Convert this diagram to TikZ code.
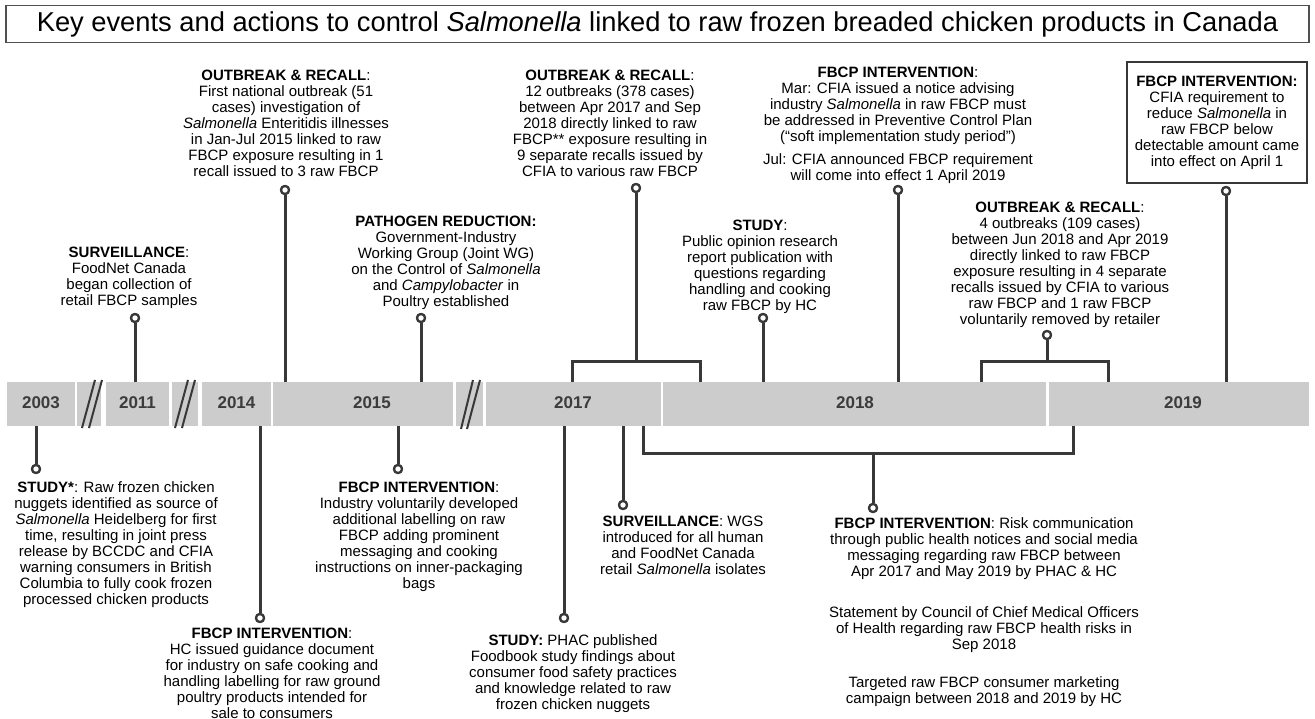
\documentclass[tikz,border=0pt]{standalone}
\usepackage{fontspec}
\setmainfont{Liberation Sans}
\definecolor{lnc}{HTML}{383838}
\definecolor{barc}{HTML}{CCCCCC}
\definecolor{yrc}{HTML}{3C3C3C}
\definecolor{ttl}{HTML}{505050}
\begin{document}
\begin{tikzpicture}[x=1pt,y=-1pt,
  txt/.style={font=\fontsize{15}{16}\selectfont, align=center, inner sep=0pt, anchor=north},
  stem/.style={draw=lnc, line width=3pt},
  dot/.style={circle, draw=lnc, fill=white, line width=2.2pt, minimum size=8pt, inner sep=0pt},
  yr/.style={font=\fontsize{17}{17}\selectfont\bfseries, text=yrc, inner sep=0pt},
  seg/.style={fill=barc},
  slash/.style={draw=lnc, line width=2pt}]
\useasboundingbox (0,0) rectangle (1315,719);

% title
\node[draw=ttl, line width=1.5pt, minimum width=1303pt, minimum height=37pt, inner sep=0pt,
  font=\fontsize{27.3}{27.3}\selectfont] (title) at (657.5,24)
  {Key events and actions to control \textit{Salmonella} linked to raw frozen breaded chicken products in Canada};

% timeline bar
\fill[seg] (7,382) rectangle (75,426);
\fill[seg] (77,382) rectangle (101,426);
\fill[seg] (106,382) rectangle (169,426);
\fill[seg] (172,382) rectangle (198,426);
\fill[seg] (202,382) rectangle (271,426);
\fill[seg] (273,382) rectangle (453,426);
\fill[seg] (456,382) rectangle (483,426);
\fill[seg] (486,382) rectangle (661,426);
\fill[seg] (663,382) rectangle (1046,426);
\fill[seg] (1049,382) rectangle (1309,426);

% break marks
\draw[slash] (82,428) -- (95,380);
\draw[slash] (89,428) -- (102,380);
\draw[slash] (175,428) -- (188,380);
\draw[slash] (182,428) -- (195,380);
\draw[slash] (461,429) -- (473,380);
\draw[slash] (467,429) -- (480,380);

% year labels
\node[yr] (y03) at (41,403) {2003};
\node[yr] (y11) at (137.5,403) {2011};
\node[yr] (y14) at (236.5,403) {2014};
\node[yr] (y15) at (372,403) {2015};
\node[yr] (y17) at (573,403) {2017};
\node[yr] (y18) at (855,403) {2018};
\node[yr] (y19) at (1183,403) {2019};

% dots
\node[dot] (dS11) at (135,318) {};
\node[dot] (dO15) at (285,190) {};
\node[dot] (dP15) at (421,318) {};
\node[dot] (dO17) at (636,188) {};
\node[dot] (dS18) at (763,318) {};
\node[dot] (dF18) at (898,190) {};
\node[dot] (dF19) at (1226,191) {};
\node[dot] (dO18) at (1047,335) {};
\node[dot] (dS03) at (36,469) {};
\node[dot] (dF14) at (260,618) {};
\node[dot] (dF15) at (398,469) {};
\node[dot] (dS17) at (564,618) {};
\node[dot] (dW17) at (623,505) {};
\node[dot] (dR17) at (873,508) {};

% bar anchor coordinates
\coordinate (bS11) at (135,382);
\coordinate (bO15) at (285,382);
\coordinate (bP15) at (421,382);
\coordinate (jO17) at (636,362);
\coordinate (bO17L) at (572,382);
\coordinate (bO17R) at (700,382);
\coordinate (bS18) at (763,382);
\coordinate (bF18) at (898,382);
\coordinate (bF19) at (1226,382);
\coordinate (jO18) at (1047,362);
\coordinate (bO18L) at (981,382);
\coordinate (bO18R) at (1108,382);
\coordinate (uS03) at (36,426);
\coordinate (uF14) at (260,426);
\coordinate (uF15) at (398,426);
\coordinate (uS17) at (564,426);
\coordinate (uW17) at (623,426);
\coordinate (uR17L) at (643,426);
\coordinate (uR19R) at (1073,426);
\coordinate (jR17) at (873,453);

% connectors
\draw[stem] (dS11) -- (bS11);
\draw[stem] (dO15) -- (bO15);
\draw[stem] (dP15) -- (bP15);
\draw[stem] (dO17) -- (jO17);
\draw[stem] (bO17L) |- (jO17) -| (bO17R);
\draw[stem] (dS18) -- (bS18);
\draw[stem] (dF18) -- (bF18);
\draw[stem] (dF19) -- (bF19);
\draw[stem] (dO18) -- (jO18);
\draw[stem] (bO18L) |- (jO18) -| (bO18R);
\draw[stem] (uS03) -- (dS03);
\draw[stem] (uF14) -- (dF14);
\draw[stem] (uF15) -- (dF15);
\draw[stem] (uS17) -- (dS17);
\draw[stem] (uW17) -- (dW17);
\draw[stem] (uR17L) |- (jR17) -| (uR19R);
\draw[stem] (jR17) -- (dR17);

% redraw dots on top
\foreach \d in {dS11,dO15,dP15,dO17,dS18,dF18,dF19,dO18,dS03,dF14,dF15,dS17,dW17,dR17}
  \node[dot] at (\d) {};

% texts above
\node[txt] (tS11) at (129,246.5) {\textbf{SURVEILLANCE}:\\FoodNet Canada\\began collection of\\retail FBCP samples};
\node[txt] (tO15) at (286,69.5) {\textbf{OUTBREAK \& RECALL}:\\First national outbreak (51\\cases) investigation of\\\textit{Salmonella} Enteritidis illnesses\\in Jan-Jul 2015 linked to raw\\FBCP exposure resulting in 1\\recall issued to 3 raw FBCP};
\node[txt] (tP15) at (446,215.5) {\textbf{PATHOGEN REDUCTION:}\\Government-Industry\\Working Group (Joint WG)\\on the Control of \textit{Salmonella}\\and \textit{Campylobacter} in\\Poultry established};
\node[txt] (tO17) at (610,69.5) {\textbf{OUTBREAK \& RECALL}:\\12 outbreaks (378 cases)\\between Apr 2017 and Sep\\2018 directly linked to raw\\FBCP** exposure resulting in\\9 separate recalls issued by\\CFIA to various raw FBCP};
\node[txt] (tS18) at (760,219.5) {\textbf{STUDY}:\\Public opinion research\\report publication with\\questions regarding\\handling and cooking\\raw FBCP by HC};
\node[txt] (tF18) at (898,66.5) {\textbf{FBCP INTERVENTION}:\\Mar: CFIA issued a notice advising\\industry \textit{Salmonella} in raw FBCP must\\be addressed in Preventive Control Plan\\(``soft implementation study period'')\\[7pt]Jul: CFIA announced FBCP requirement\\will come into effect 1 April 2019};
\node[draw=lnc, line width=1.5pt, minimum width=180pt, minimum height=121pt, inner sep=0pt,
  font=\fontsize{15}{16}\selectfont, align=center] (tF19) at (1217,122.5)
  {\textbf{FBCP INTERVENTION:}\\CFIA requirement to\\reduce \textit{Salmonella} in\\raw FBCP below\\detectable amount came\\into effect on April 1};
\node[txt] (tO18) at (1060,201.5) {\textbf{OUTBREAK \& RECALL}:\\4 outbreaks (109 cases)\\between Jun 2018 and Apr 2019\\directly linked to raw FBCP\\exposure resulting in 4 separate\\recalls issued by CFIA to various\\raw FBCP and 1 raw FBCP\\voluntarily removed by retailer};

% texts below
\node[txt] (tS03) at (116,481.5) {\textbf{STUDY*}: Raw frozen chicken\\nuggets identified as source of\\\textit{Salmonella} Heidelberg for first\\time, resulting in joint press\\release by BCCDC and CFIA\\warning consumers in British\\Columbia to fully cook frozen\\processed chicken products};
\node[txt] (tF14) at (272,627.5) {\textbf{FBCP INTERVENTION}:\\HC issued guidance document\\for industry on safe cooking and\\handling labelling for raw ground\\poultry products intended for\\sale to consumers};
\node[txt] (tF15) at (419,481.5) {\textbf{FBCP INTERVENTION}:\\Industry voluntarily developed\\additional labelling on raw\\FBCP adding prominent\\messaging and cooking\\instructions on inner-packaging\\bags};
\node[txt] (tS17) at (573,634.5) {\textbf{STUDY:} PHAC published\\Foodbook study findings about\\consumer food safety practices\\and knowledge related to raw\\frozen chicken nuggets};
\node[txt] (tW17) at (683,515.5) {\textbf{SURVEILLANCE}: WGS\\introduced for all human\\and FoodNet Canada\\retail \textit{Salmonella} isolates};
\node[txt] (tR17a) at (984,517.5) {\textbf{FBCP INTERVENTION}: Risk communication\\through public health notices and social media\\messaging regarding raw FBCP between\\Apr 2017 and May 2019 by PHAC \& HC};
\node[txt] (tR17b) at (984,606.5) {Statement by Council of Chief Medical Officers\\of Health regarding raw FBCP health risks in\\Sep 2018};
\node[txt] (tR17c) at (984,676.5) {Targeted raw FBCP consumer marketing\\campaign between 2018 and 2019 by HC};
\end{tikzpicture}
\end{document}
